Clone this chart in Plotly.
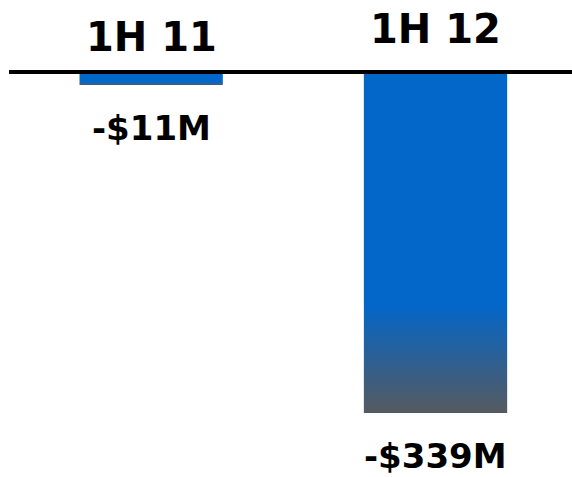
import plotly.graph_objects as go

periods = ["1H 11", "1H 12"]
values = [-11, -339]
value_labels = ["-$11M", "-$339M"]

BLUE = "#0366c9"
GRAY = "#565a5f"
FONT = "DejaVu Sans"

fig = go.Figure()
half = 0.252
for i, (p, v) in enumerate(zip(periods, values)):
    xs = [i - half, i + half, i + half, i - half, i - half]
    ys = [0, 0, v, v, 0]
    fig.add_trace(go.Scatter(
        x=xs, y=ys, mode="lines", fill="toself",
        line=dict(width=0, color=BLUE),
        fillcolor=BLUE,
        fillgradient=dict(type="vertical",
                          colorscale=[[0, GRAY], [0.32, BLUE], [1, BLUE]]),
        hoverinfo="skip", showlegend=False,
    ))

# Period titles above the axis line
title_shift = [37, 45]
for i, p in enumerate(periods):
    fig.add_annotation(x=i, y=0, xref="x", yref="y", text=p, showarrow=False,
                       yanchor="middle", yshift=title_shift[i],
                       font=dict(family=FONT, size=40, color="black", weight="bold"))

# Value labels below the bars
for i, (v, lab) in enumerate(zip(values, value_labels)):
    fig.add_annotation(x=i, y=v, xref="x", yref="y", text=lab, showarrow=False,
                       yanchor="middle", yshift=-43, borderpad=0,
                       font=dict(family=FONT, size=34, color="black", weight="bold"))

fig.update_layout(
    width=572, height=477,
    margin=dict(l=9, r=0, t=74, b=0),
    plot_bgcolor="white", paper_bgcolor="white",
    xaxis=dict(range=[-0.5, 1.48], side="top", showline=True, linewidth=4,
               linecolor="black", showticklabels=False, showgrid=False,
               zeroline=False, ticks=""),
    yaxis=dict(range=[-403, 0], visible=False, showgrid=False, zeroline=False),
)

fig.write_html("out.html", config={"displayModeBar": False},
               post_script="document.body.style.margin='0';document.body.style.overflow='hidden';")
